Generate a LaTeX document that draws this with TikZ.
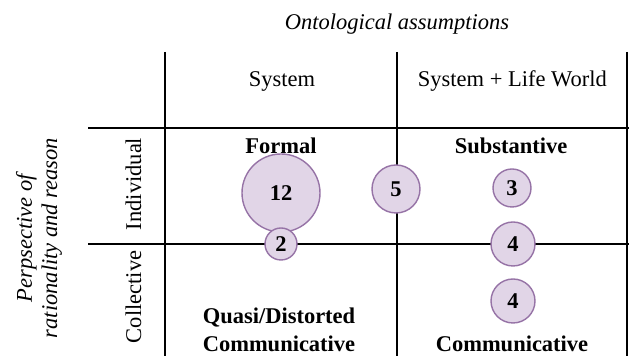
\documentclass[tikz,border=0pt]{standalone}
\usepackage{fontspec}
\setmainfont{Liberation Serif}
\definecolor{bubblefill}{HTML}{E1D5E7}
\definecolor{bubbleline}{HTML}{9673A6}
\begin{document}
\begin{tikzpicture}[
		grid/.style={line width=1.4pt},
		bubble/.style={circle, draw=bubbleline, fill=bubblefill, line width=1pt, inner sep=0pt, font=\fontsize{16}{19}\selectfont\bfseries},
		lbl/.style={font=\fontsize{16}{21}\selectfont, align=center, anchor=base},
		quad/.style={lbl, font=\fontsize{16}{21}\selectfont\bfseries}]
		\useasboundingbox (0,0) rectangle (15.725,8.9);
		% table frame
		\draw[grid] (4.125,7.6) -- (4.125,0);
		\draw[grid] (9.925,7.6) -- (9.925,0);
		\draw[grid] (15.675,7.6) -- (15.675,0);
		\draw[grid] (2.2,5.7) -- (15.725,5.7);
		\draw[grid] (2.2,2.8) -- (15.725,2.8);
		% headings
		\node[lbl, font=\fontsize{16}{21}\selectfont\itshape] (onto) at (9.925,8.15) {Ontological assumptions};
		\node[lbl] (sys) at (7.05,6.725) {System};
		\node[lbl] (syslw) at (12.81,6.725) {System + Life World};
		\node[lbl, font=\fontsize{16}{17.8}\selectfont\itshape, anchor=center, rotate=90] (persp) at (0.975,2.95) {Perpsective of\\rationality and reason};
		\node[lbl, rotate=90] (indiv) at (3.525,4.3) {Individual};
		\node[lbl, rotate=90] (coll) at (3.525,1.475) {Collective};
		% quadrant names
		\node[quad] (formal) at (7.025,5.05) {Formal};
		\node[quad] (subst) at (12.775,5.05) {Substantive};
		\node[quad] (quasi) at (6.975,0.8) {Quasi/Distorted};
		\node[quad] (commL) at (6.975,0.1) {Communicative};
		\node[quad] (commR) at (12.8,0.1) {Communicative};
		% counts
		\node[bubble, minimum size=1.95cm] (c12) at (7.025,4.075) {12};
		\node[bubble, minimum size=0.8cm] (c2) at (7.025,2.8) {2};
		\node[bubble, minimum size=1.2cm] (c5) at (9.9,4.175) {5};
		\node[bubble, minimum size=0.95cm] (c3) at (12.8,4.2) {3};
		\node[bubble, minimum size=1.1cm] (c4a) at (12.825,2.8) {4};
		\node[bubble, minimum size=1.1cm] (c4b) at (12.825,1.375) {4};
	\end{tikzpicture}
\end{document}
